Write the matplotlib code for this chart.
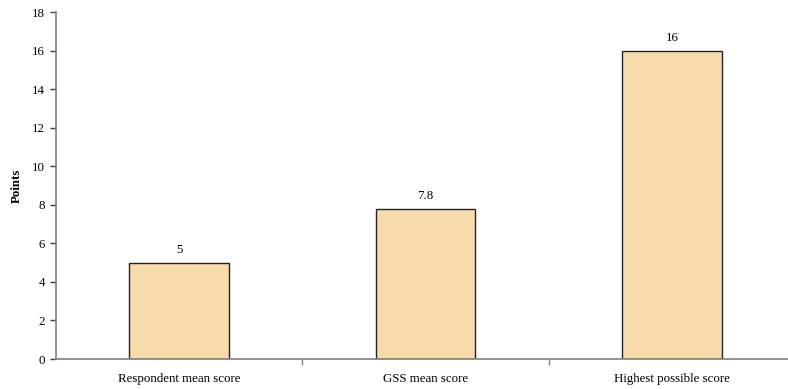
import matplotlib
matplotlib.use('Agg')
import matplotlib.pyplot as plt

categories = ["Respondent mean score", "GSS mean score", "Highest possible score"]
scores = [5, 7.8, 16]
value_labels = ["5", "7.8", "16"]

plt.rcParams['font.family'] = ['Liberation Serif', 'DejaVu Serif']

fig = plt.figure(figsize=(7.88, 3.89), dpi=100)
ax = fig.add_axes([56 / 788, 30 / 389, 739 / 788, 347 / 389])

x = list(range(len(categories)))
bars = ax.bar(x, scores, width=0.405, color='#F8DBAA', edgecolor='#222222', linewidth=1.0)
for rect, lab in zip(bars, value_labels):
    ax.text(rect.get_x() + rect.get_width() / 2, rect.get_height() + 0.35, lab,
            ha='center', va='bottom', fontsize=9.3)

ax.set_xlim(-0.5, 2.5)
ax.set_ylim(0, 18)
ax.set_yticks(range(0, 19, 2))
ax.set_xticks(x)
ax.set_xticklabels(categories, fontsize=9.3)
ax.set_xticks([0.5, 1.5], minor=True)
ax.tick_params(axis='x', which='major', length=0, pad=10)
ax.tick_params(axis='x', which='minor', length=4, color='#808080', width=1)
ax.tick_params(axis='y', length=4, color='#404040', width=1, labelsize=9.3, pad=4)
ax.set_ylabel("Points", fontsize=9.3, fontweight='bold')
ax.yaxis.set_label_coords(-33 / 739, 0.5)

for side in ['top', 'right']:
    ax.spines[side].set_visible(False)
for side in ['left', 'bottom']:
    ax.spines[side].set_color('#808080')
    ax.spines[side].set_linewidth(1.2)

fig.savefig('out.png', dpi=100)
